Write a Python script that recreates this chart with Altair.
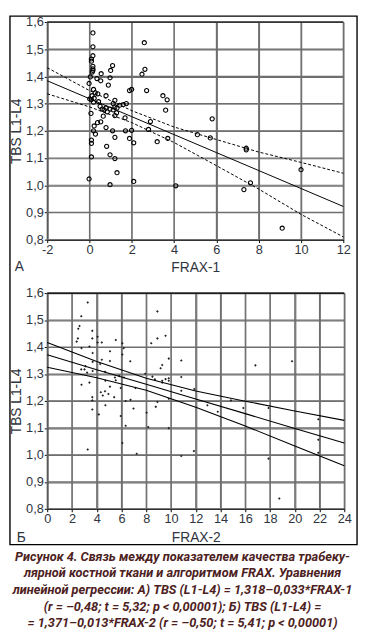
import altair as alt
import pandas as pd

# ---------------- Panel A data (FRAX-1) ----------------
a_x = [0.16, 0.16, 0.16, 0.09, 0.09, 0.16, 0.16, 0.16, 0.13, 0.04, 0.35, 0.55, 0.53, 1.09, 1.0, 0.97,
       0.89, 0.78, -0.02, 0.19, 0.27, 0.39, 0.12, 0.01, 0.09, 0.22, 0.19, 0.43, 0.5, 0.6, 0.69, 0.78,
       0.84, 0.97, 1.12, 1.2, 1.3, 1.43, 1.59, 1.74, 1.12, 1.2, 0.65, 0.53, 0.38, 0.22, 0.19, 0.28,
       0.07, 1.2, 1.28, 1.68, 1.89, 1.99, 2.59, 2.62, 2.48, 2.7, 3.47, 3.67, 3.6, 2.88, 0.78, 1.09,
       1.2, 1.7, 1.99, 1.89, 2.09, 2.79, 3.2, 3.7, 0.09, 0.09, 0.09, 0.81, 0.97, 1.2, 1.3, -0.02,
       0.97, 2.09, 4.08, 5.8, 5.1, 5.71, 7.41, 7.41, 10.0, 7.61, 7.3, 9.11]
a_y = [1.560, 1.509, 1.476, 1.464, 1.456, 1.437, 1.428, 1.422, 1.416, 1.398, 1.392, 1.410, 1.384, 1.440, 1.422, 1.395,
       1.368, 1.329, 1.374, 1.352, 1.340, 1.336, 1.329, 1.317, 1.315, 1.320, 1.305, 1.307, 1.290, 1.280, 1.277, 1.284,
       1.270, 1.280, 1.277, 1.288, 1.284, 1.294, 1.296, 1.300, 1.300, 1.312, 1.254, 1.233, 1.230, 1.218, 1.200, 1.188,
       1.264, 1.256, 1.266, 1.248, 1.348, 1.352, 1.524, 1.426, 1.408, 1.348, 1.329, 1.314, 1.276, 1.234, 1.212, 1.200,
       1.176, 1.200, 1.202, 1.172, 1.156, 1.205, 1.160, 1.172, 1.166, 1.154, 1.104, 1.143, 1.112, 1.098, 1.046, 1.023,
       1.002, 1.014, 0.998, 1.244, 1.186, 1.174, 1.136, 1.130, 1.057, 1.009, 0.984, 0.842]

a_line_x = [-2, 0, 2, 4, 6, 8, 10, 12]
a_fit = [1.384, 1.318, 1.252, 1.186, 1.120, 1.054, 0.988, 0.922]
a_upper = [1.432, 1.348, 1.274, 1.214, 1.168, 1.122, 1.084, 1.044]
a_lower = [1.336, 1.288, 1.230, 1.157, 1.072, 0.986, 0.893, 0.810]

# ---------------- Panel B data (FRAX-2) ----------------
b_x = [3.27, 2.75, 2.61, 2.51, 2.48, 2.38, 2.77, 3.41, 3.64, 3.64, 4.07, 4.07, 4.41, 3.67, 4.41, 4.28,
       5.07, 5.07, 4.67, 3.67, 3.67, 3.09, 3.01, 2.75, 3.22, 2.77, 3.41, 4.7, 4.33, 4.67, 4.49, 4.94,
       5.07, 5.47, 5.54, 5.81, 5.41, 3.64, 3.64, 3.64, 4.17, 4.7, 5.54, 6.07, 6.18, 6.07, 5.94, 6.2,
       5.94, 6.34, 6.71, 6.73, 6.97, 7.13, 7.92, 8.03, 8.16, 8.4, 8.5, 8.7, 8.9, 8.9, 8.77, 8.9,
       9.16, 9.29, 9.29, 9.29, 9.56, 9.56, 9.82, 9.82, 9.82, 9.82, 9.82, 10.83, 10.83, 10.83, 11.88, 12.94,
       13.78, 14.84, 15.84, 16.82, 17.88, 19.78, 21.9, 21.9, 21.9, 3.27, 6.34, 6.07, 7.23, 10.83, 11.85, 17.88,
       18.75]
b_y = [1.565, 1.514, 1.478, 1.468, 1.432, 1.420, 1.396, 1.402, 1.460, 1.432, 1.438, 1.417, 1.417, 1.378, 1.353, 1.337,
       1.384, 1.348, 1.308, 1.345, 1.311, 1.329, 1.317, 1.317, 1.305, 1.260, 1.268, 1.275, 1.232, 1.236, 1.220, 1.226,
       1.253, 1.287, 1.277, 1.293, 1.214, 1.214, 1.202, 1.168, 1.150, 1.184, 1.426, 1.414, 1.396, 1.372, 1.248, 1.287,
       1.144, 1.200, 1.347, 1.204, 1.172, 1.248, 1.301, 1.156, 1.103, 1.414, 1.290, 1.280, 1.532, 1.432, 1.178, 1.196,
       1.321, 1.333, 1.275, 1.268, 1.442, 1.281, 1.357, 1.284, 1.275, 1.208, 1.099, 1.350, 1.289, 1.238, 1.244, 1.184,
       1.160, 1.202, 1.174, 1.332, 1.174, 1.347, 1.132, 1.056, 1.008, 1.020, 1.108, 1.044, 1.004, 0.996, 1.014, 0.986,
       0.838]

b_line_x = [0, 4, 8, 12, 16, 20, 24]
b_fit = [1.371, 1.316, 1.262, 1.207, 1.153, 1.098, 1.044]
b_upper = [1.417, 1.346, 1.284, 1.237, 1.199, 1.163, 1.128]
b_lower = [1.325, 1.286, 1.240, 1.177, 1.107, 1.033, 0.960]

y_ticks = [0.8, 0.9, 1.0, 1.1, 1.2, 1.3, 1.4, 1.5, 1.6]
a_x_ticks = [-2, 0, 2, 4, 6, 8, 10, 12]
b_x_ticks = [0, 2, 4, 6, 8, 10, 12, 14, 16, 18, 20, 22, 24]

caption = [
    "Рисунок 4. Связь между показателем качества трабеку-",
    "лярной костной ткани и алгоритмом FRAX. Уравнения",
    "линейной регрессии: А) TBS (L1-L4) = 1,318–0,033*FRAX-1",
    "(r = –0,48; t = 5,32; p < 0,00001); Б) TBS (L1-L4) =",
    "= 1,371–0,013*FRAX-2 (r = –0,50; t = 5,41; p < 0,00001)",
]

FONT = "Liberation Sans"
LABEL_COLOR = "#2f3540"
GRID = "#6e6e6e"

WA, HA = 302, 222
WB, HB = 303, 220


def x_axis(ticks, title, w):
    return alt.Axis(values=ticks, title=title, grid=True, gridColor=GRID, gridWidth=1.2, gridOpacity=1,
                    domainColor="black", domainWidth=1.2, tickColor="black", tickSize=3,
                    labelOverlap=False, labelFlush=False, labelBound=False,
                    labelPadding=1, labelExpr="'' + datum.value", labelFont=FONT, labelFontSize=13,
                    labelColor=LABEL_COLOR, titleFont=FONT, titleFontSize=14, titleFontWeight="normal",
                    titleColor=LABEL_COLOR, titleX=w / 2, titleY=29, titleBaseline="middle")


def y_axis(h):
    return alt.Axis(values=y_ticks, title="TBS L1-L4", grid=True, gridColor=GRID, gridWidth=1.2, gridOpacity=1,
                    domainColor="black", domainWidth=1.2, tickColor="black", tickSize=3,
                    labelOverlap=False, labelFlush=False, labelBound=False,
                    labelPadding=1, labelExpr="replace(format(datum.value, '.1f'), '.', ',')",
                    labelFont=FONT, labelFontSize=13, labelColor=LABEL_COLOR,
                    titleFont=FONT, titleFontSize=14, titleFontWeight="normal", titleColor=LABEL_COLOR,
                    titleX=-31, titleY=h / 2, titleAngle=-90, titleAlign="center", titleBaseline="middle")


one = pd.DataFrame({"k": [0]})


def long_lines(xs, fit, up, lo):
    rows = []
    for name, ys in (("fit", fit), ("upper", up), ("lower", lo)):
        for xv, yv in zip(xs, ys):
            rows.append({"x": xv, "y": yv, "kind": name})
    return pd.DataFrame(rows)


def grid_layers(xticks, xs, ys):
    vx = alt.Chart(pd.DataFrame({"x": xticks})).mark_rule(
        color=GRID, strokeWidth=1.2, opacity=1).encode(x=xs)
    hy = alt.Chart(pd.DataFrame({"y": y_ticks})).mark_rule(
        color=GRID, strokeWidth=1.2, opacity=1).encode(y=ys)
    return vx, hy


# ---------------- Panel A ----------------
a_pts = pd.DataFrame({"x": a_x, "y": a_y})
a_l = long_lines(a_line_x, a_fit, a_upper, a_lower)

xa = alt.X("x:Q", scale=alt.Scale(domain=[-2, 12], nice=False), axis=x_axis(a_x_ticks, "FRAX-1", WA))
ya = alt.Y("y:Q", scale=alt.Scale(domain=[0.8, 1.6], nice=False, zero=False), axis=y_axis(HA))

a_gx, a_gy = grid_layers(a_x_ticks, xa, ya)
a_points = alt.Chart(a_pts).mark_point(shape="circle", size=18, color="black", strokeWidth=1.1,
                                        filled=False, opacity=1).encode(x=xa, y=ya)
a_fit_line = alt.Chart(a_l).transform_filter("datum.kind == 'fit'").mark_line(
    color="black", strokeWidth=1).encode(x=xa, y=ya)
a_band = alt.Chart(a_l).transform_filter("datum.kind != 'fit'").mark_line(
    color="black", strokeWidth=1, strokeDash=[3, 2]).encode(x=xa, y=ya, detail="kind:N")
a_top = alt.Chart(one).mark_rule(color="black", strokeWidth=1.2).encode(
    x=alt.value(0), x2=alt.value(WA), y=alt.value(0))
a_label = alt.Chart(one).mark_text(text="А", font=FONT, fontSize=14, color=LABEL_COLOR,
                                   align="left", baseline="middle").encode(
    x=alt.value(-33), y=alt.value(HA + 28))

panel_a = alt.layer(a_gx, a_gy, a_points, a_band, a_fit_line, a_top, a_label).properties(
    width=WA, height=HA)

# ---------------- Panel B ----------------
b_pts = pd.DataFrame({"x": b_x, "y": b_y})
b_l = long_lines(b_line_x, b_fit, b_upper, b_lower)

xb = alt.X("x:Q", scale=alt.Scale(domain=[0, 24], nice=False), axis=x_axis(b_x_ticks, "FRAX-2", WB))
yb = alt.Y("y:Q", scale=alt.Scale(domain=[0.8, 1.6], nice=False, zero=False), axis=y_axis(HB))

b_gx, b_gy = grid_layers(b_x_ticks, xb, yb)
b_points = alt.Chart(b_pts).mark_point(shape="diamond", size=7, color="#222", filled=True,
                                        opacity=1).encode(x=xb, y=yb)
b_lines = alt.Chart(b_l).mark_line(color="black", strokeWidth=1.1).encode(x=xb, y=yb, detail="kind:N")
b_top = alt.Chart(one).mark_rule(color="black", strokeWidth=1.2).encode(
    x=alt.value(0), x2=alt.value(WB), y=alt.value(0))
b_label = alt.Chart(one).mark_text(text="Б", font=FONT, fontSize=14, color=LABEL_COLOR,
                                   align="left", baseline="middle").encode(
    x=alt.value(-31), y=alt.value(HB + 30))
frame = alt.Chart(one).mark_rect(filled=False, stroke="black", strokeWidth=1.4).encode(
    x=alt.value(-38), x2=alt.value(316), y=alt.value(-282.5), y2=alt.value(256.5))
cap = alt.Chart(one).mark_text(font="Roboto", fontSize=13, fontWeight="bold", fontStyle="italic",
                               color="#4d2121", align="center", baseline="alphabetic",
                               lineHeight=17).encode(
    x=alt.value(138), y=alt.value(273), text=alt.value(caption))

panel_b = alt.layer(b_gx, b_gy, b_points, b_lines, b_top, b_label, frame, cap).properties(
    width=WB, height=HB)

chart = alt.vconcat(panel_a, panel_b, spacing=54.5, bounds="flush").properties(
    padding=0, background="white"
).configure_view(stroke="#8c8c8c", strokeWidth=1)

chart.save("out.html", embed_options={"renderer": "svg", "actions": False})
